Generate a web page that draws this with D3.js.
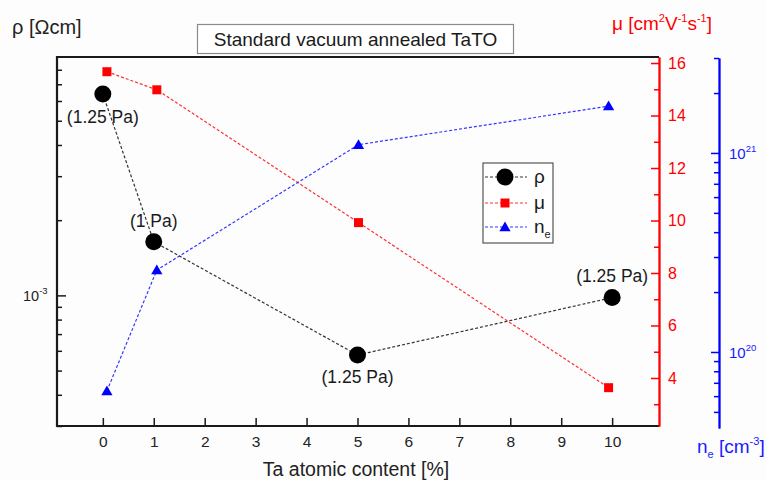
<!DOCTYPE html>
<html>
<head>
<meta charset="utf-8">
<script src="https://cdn.jsdelivr.net/npm/d3@7"></script>
<style>
body { margin: 0; background: #fff; }
text { font-family: "Liberation Sans", Arial, sans-serif; }
</style>
</head>
<body>
<svg id="chart" width="767" height="480"></svg>
<script>
// Ta content [%] of the samples (rho is plotted on the tick, mu / ne slightly off)
var taRho = [0, 1, 5, 10];
var taMuNe = [0.08, 1.06, 5.02, 9.93];

// series values
var rhoValues = [6.4e-3, 1.64e-3, 5.77e-4, 9.8e-4];   // Ohm cm
var muValues = [15.67, 14.98, 9.92, 3.63];            // cm2/Vs
var neValues = [6.37e19, 2.58e20, 1.10e21, 1.72e21];  // cm-3
var pressureLabels = ["(1.25 Pa)", "(1 Pa)", "(1.25 Pa)", "(1.25 Pa)"];

// tick values
var xTicks = [0, 1, 2, 3, 4, 5, 6, 7, 8, 9, 10];
var muTicks = [4, 6, 8, 10, 12, 14, 16];
var muMinor = [3, 5, 7, 9, 11, 13, 15];
var rhoMajor = [1e-3];
var rhoMinor = [3e-4, 4e-4, 5e-4, 6e-4, 7e-4, 8e-4, 9e-4, 2e-3, 3e-3, 4e-3, 5e-3, 6e-3, 7e-3, 8e-3];
var neMajor = [1e20, 1e21];
var neMinor = [5e19, 6e19, 7e19, 8e19, 9e19, 2e20, 3e20, 4e20, 5e20, 6e20, 7e20, 8e20, 9e20, 2e21, 3e21];

var plotLeft = 57, plotRight = 659, plotTop = 57, plotBottom = 426;
var blueX = 719;

var svg = d3.select("#chart");

svg.append("rect")
    .attr("width", 767).attr("height", 480)
    .attr("fill", "#fdfdfd");

// scales
var x = d3.scaleLinear().domain([-0.9, 10.92]).range([plotLeft, plotRight]);
var yRho = d3.scaleLog().domain([3e-4, 9e-3]).range([plotBottom, plotTop]);
var yMu = d3.scaleLinear().domain([2.17, 16.23]).range([plotBottom, plotTop]);
var yNe = d3.scaleLog().domain([4.15e19, 3e21]).range([428, 58]);

// ****************** axes ***************************

// x axis, ticks pointing inward
var xAxis = svg.append("g")
    .attr("transform", "translate(0," + plotBottom + ")")
    .call(d3.axisBottom(x).tickValues(xTicks).tickSize(-8).tickSizeOuter(0).tickPadding(10));
xAxis.select(".domain").remove();
xAxis.selectAll("line").attr("stroke", "#1a1a1a").attr("stroke-width", 1.5);
xAxis.selectAll("text").attr("font-size", 15.5).attr("fill", "#222")
    .style("font-family", "'Liberation Sans', Arial, sans-serif");

// left rho axis (log)
var rhoAxis = svg.append("g").attr("transform", "translate(" + plotLeft + ",0)");
rhoAxis.append("g")
    .call(d3.axisLeft(yRho).tickValues(rhoMinor).tickSize(-5).tickSizeOuter(0).tickFormat(""));
rhoAxis.append("g")
    .call(d3.axisLeft(yRho).tickValues(rhoMajor).tickSize(-9).tickSizeOuter(0).tickFormat(""));
rhoAxis.selectAll(".domain").remove();
rhoAxis.selectAll("line").attr("stroke", "#1a1a1a").attr("stroke-width", 1.5);

rhoMajor.forEach(function(v) {
    var t = svg.append("text")
        .attr("x", plotLeft - 34)
        .attr("y", yRho(v) + 6)
        .attr("font-size", 14.5)
        .attr("fill", "#222");
    t.append("tspan").text("10");
    t.append("tspan").attr("dy", -7).attr("font-size", 9.5).text("-" + Math.round(-Math.log10(v)));
});

// frame (left, top, bottom)
svg.append("path")
    .attr("d", "M" + plotRight + "," + plotTop + "H" + plotLeft + "V" + plotBottom + "H" + plotRight)
    .attr("fill", "none")
    .attr("stroke", "#1a1a1a")
    .attr("stroke-width", 2.2);

// right mu axis (red)
var muAxis = svg.append("g").attr("transform", "translate(" + plotRight + ",0)");
muAxis.append("g")
    .call(d3.axisRight(yMu).tickValues(muMinor).tickSize(-5).tickSizeOuter(0).tickFormat(""));
muAxis.append("g")
    .call(d3.axisRight(yMu).tickValues(muTicks).tickSize(-8).tickSizeOuter(0).tickPadding(9));
muAxis.selectAll(".domain").attr("stroke", "#ff0000").attr("stroke-width", 1.8);
muAxis.selectAll("line").attr("stroke", "#ff0000").attr("stroke-width", 1.5);
muAxis.selectAll("text").attr("font-size", 16).attr("fill", "#ff0000")
    .style("font-family", "'Liberation Sans', Arial, sans-serif");

// far right ne axis (blue, log)
var neAxis = svg.append("g").attr("transform", "translate(" + blueX + ",0)");
neAxis.append("g")
    .call(d3.axisRight(yNe).tickValues(neMinor).tickSize(-5).tickSizeOuter(0).tickFormat(""));
neAxis.append("g")
    .call(d3.axisRight(yNe).tickValues(neMajor).tickSize(-8).tickSizeOuter(0).tickFormat(""));
neAxis.selectAll(".domain").attr("stroke", "#0000ff").attr("stroke-width", 1.8);
neAxis.selectAll("line").attr("stroke", "#0000ff").attr("stroke-width", 1.5);

neMajor.forEach(function(v) {
    var t = svg.append("text")
        .attr("x", blueX + 10)
        .attr("y", yNe(v) + 6)
        .attr("font-size", 15)
        .attr("fill", "#1a1aff");
    t.append("tspan").text("10");
    t.append("tspan").attr("dy", -7).attr("font-size", 9.5).text(Math.round(Math.log10(v)));
});

// ****************** axis titles ***************************

svg.append("text")
    .attr("x", 12).attr("y", 34)
    .attr("font-size", 20).attr("fill", "#222")
    .text("\u03c1 [\u03a9cm]");

function supTitle(parts, xPos, yPos, color) {
    var t = svg.append("text")
        .attr("x", xPos).attr("y", yPos)
        .attr("font-size", 19).attr("fill", color);
    var shift = 0;
    parts.forEach(function(p) {
        var dy = p.sup ? -8 : (p.sub ? 5 : 0);
        t.append("tspan")
            .attr("dy", dy - shift)
            .attr("font-size", p.sup || p.sub ? 11 : 19)
            .text(p.t);
        shift = dy;
    });
    return t;
}

supTitle([{t: "\u03bc [cm"}, {t: "2", sup: true}, {t: "V"}, {t: "-1", sup: true},
          {t: "s"}, {t: "-1", sup: true}, {t: "]"}], 612, 30, "#ff0000");

supTitle([{t: "n"}, {t: "e", sub: true}, {t: " [cm"}, {t: "-3", sup: true}, {t: "]"}],
         697, 453, "#1a1aff");

svg.append("text")
    .attr("x", (plotLeft + plotRight) / 2 - 2).attr("y", 476)
    .attr("text-anchor", "middle")
    .attr("font-size", 19.5).attr("fill", "#222")
    .text("Ta atomic content [%]");

// title box
svg.append("rect")
    .attr("x", 197.5).attr("y", 24.5)
    .attr("width", 316).attr("height", 29)
    .attr("fill", "#fff")
    .attr("stroke", "#8a8a8a")
    .attr("stroke-width", 1.2);
svg.append("text")
    .attr("x", 355.5).attr("y", 46)
    .attr("text-anchor", "middle")
    .attr("font-size", 19).attr("fill", "#1a1a1a")
    .text("Standard vacuum annealed TaTO");

// ****************** series ***************************

var rhoPts = taRho.map(function(t, i) { return [x(t), yRho(rhoValues[i])]; });
var muPts = taMuNe.map(function(t, i) { return [x(t), yMu(muValues[i])]; });
var nePts = taMuNe.map(function(t, i) { return [x(t), yNe(neValues[i])]; });

var line = d3.line();

svg.append("path").attr("d", line(rhoPts))
    .attr("fill", "none").attr("stroke", "#333").attr("stroke-width", 1.2)
    .attr("stroke-dasharray", "3,2");
svg.append("path").attr("d", line(muPts))
    .attr("fill", "none").attr("stroke", "#ff3030").attr("stroke-width", 1.2)
    .attr("stroke-dasharray", "3,2");
svg.append("path").attr("d", line(nePts))
    .attr("fill", "none").attr("stroke", "#3535ff").attr("stroke-width", 1.2)
    .attr("stroke-dasharray", "3,2");

var circleSym = d3.symbol().type(d3.symbolCircle).size(Math.PI * 8.5 * 8.5);
var squareSym = d3.symbol().type(d3.symbolSquare).size(81);
var triSym = d3.symbol().type(d3.symbolTriangle).size(55);

svg.selectAll("path.rho").data(rhoPts).enter().append("path")
    .attr("class", "rho")
    .attr("d", circleSym)
    .attr("transform", function(d) { return "translate(" + d[0] + "," + d[1] + ")"; })
    .attr("fill", "#000");
svg.selectAll("path.mu").data(muPts).enter().append("path")
    .attr("class", "mu")
    .attr("d", squareSym)
    .attr("transform", function(d) { return "translate(" + d[0] + "," + d[1] + ")"; })
    .attr("fill", "#ff0000");
svg.selectAll("path.ne").data(nePts).enter().append("path")
    .attr("class", "ne")
    .attr("d", triSym)
    .attr("transform", function(d) { return "translate(" + d[0] + "," + (d[1] + 1) + ")"; })
    .attr("fill", "#0000ff");

// pressure labels next to the rho points
var labelDy = [29, -15, 28, -16];
svg.selectAll("text.press").data(rhoPts).enter().append("text")
    .attr("class", "press")
    .attr("x", function(d) { return d[0]; })
    .attr("y", function(d, i) { return d[1] + labelDy[i]; })
    .attr("text-anchor", "middle")
    .attr("font-size", 17.5).attr("fill", "#1a1a1a")
    .text(function(d, i) { return pressureLabels[i]; });

// ****************** legend ***************************

var legend = svg.append("g");
legend.append("rect")
    .attr("x", 483).attr("y", 163)
    .attr("width", 70).attr("height", 80)
    .attr("fill", "#fff")
    .attr("stroke", "#555").attr("stroke-width", 1.2);

var legendRows = [
    {y: 177, color: "#333", sym: circleSym, fill: "#000", label: "\u03c1"},
    {y: 203, color: "#ff3030", sym: squareSym, fill: "#ff0000", label: "\u03bc"},
    {y: 227, color: "#3535ff", sym: triSym, fill: "#0000ff", label: "n"}
];
legendRows.forEach(function(r, i) {
    legend.append("line")
        .attr("x1", 485).attr("x2", 527)
        .attr("y1", r.y).attr("y2", r.y)
        .attr("stroke", r.color).attr("stroke-width", 1.2)
        .attr("stroke-dasharray", "3,2");
    legend.append("path")
        .attr("d", r.sym)
        .attr("transform", "translate(505," + (r.y + (i == 2 ? 1 : 0)) + ")")
        .attr("fill", r.fill);
    var t = legend.append("text")
        .attr("x", 534).attr("y", r.y + 6)
        .attr("font-size", 19).attr("fill", "#1a1a1a");
    t.append("tspan").text(r.label);
    if (i == 2) t.append("tspan").attr("dy", 5).attr("font-size", 11).text("e");
});
</script>
</body>
</html>
